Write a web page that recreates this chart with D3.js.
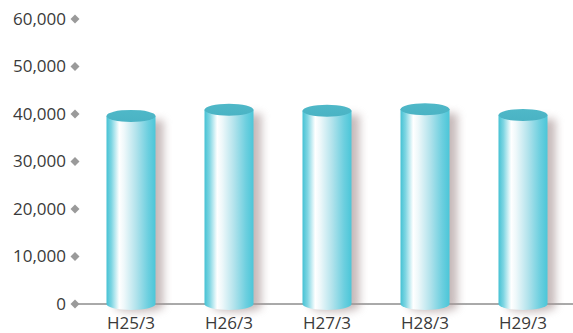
<!DOCTYPE html>
<html><head><meta charset="utf-8">
<script src="https://cdn.jsdelivr.net/npm/d3@7"></script>
<style>
html,body{margin:0;padding:0;background:#fff;}
svg{display:block;}
text{font-family:"Open Sans",sans-serif;}
</style></head>
<body>
<script>
const categories = ["H25/3","H26/3","H27/3","H28/3","H29/3"];
const values = [39600, 40900, 40700, 41000, 39800];
const yTicks = [0,10000,20000,30000,40000,50000,60000];

const W = 573, H = 333;
const svg = d3.select("body").append("svg").attr("width", W).attr("height", H);
const defs = svg.append("defs");

const x = d3.scaleBand().domain(categories).range([82, 572]).padding(0);
const y = d3.scaleLinear().domain([0, 60000]).range([304, 19]);

const g1 = defs.append("linearGradient").attr("id","body").attr("x1","0").attr("x2","1").attr("y1","0").attr("y2","0");
[[0,"#45c2d4"],[0.1,"#7dd5e2"],[0.26,"#ffffff"],[0.36,"#eef8fa"],[0.6,"#b3e3ec"],[0.85,"#6ccfdf"],[1,"#4bc6d8"]]
  .forEach(([o,c])=>g1.append("stop").attr("offset",o).attr("stop-color",c));
const g2 = defs.append("linearGradient").attr("id","top").attr("x1","0").attr("x2","0").attr("y1","0").attr("y2","1");
[[0,"#4fb8c8"],[1,"#4ab3c4"]].forEach(([o,c])=>g2.append("stop").attr("offset",o).attr("stop-color",c));
const f = defs.append("filter").attr("id","sh").attr("x","-50%").attr("y","-20%").attr("width","200%").attr("height","140%");
f.append("feGaussianBlur").attr("stdDeviation",4);

const bw = x.bandwidth()*0.5, rx = bw/2, ry = 6;

svg.append("line").attr("x1",75).attr("x2",W).attr("y1",y(0)).attr("y2",y(0))
  .attr("stroke","#555").attr("stroke-width",1);

const yt = svg.append("g");
yTicks.forEach(t=>{
  yt.append("text").attr("x",66).attr("y",y(t)).attr("dy","0.35em").attr("text-anchor","end")
    .attr("font-size",17).attr("fill","#3a3a3a").text(d3.format(",")(t));
  yt.append("path").attr("d","M0,-4.5L4.5,0L0,4.5L-4.5,0Z")
    .attr("transform",`translate(75,${y(t)})`).attr("fill","#9a9a9a");
});

function bodyPath(cx, top, bot){
  const l = cx-rx, r = cx+rx;
  return `M${l},${top} L${r},${top} L${r},${bot} A${rx},${ry} 0 0 1 ${l},${bot} Z`;
}

const bars = svg.append("g");
categories.forEach((c,i)=>{
  const cx = x(c)+x.bandwidth()/2, top = y(values[i]), bot = y(0);
  bars.append("path").attr("d", bodyPath(cx+8, top+4, bot+2))
    .attr("fill","#a89494").attr("opacity",0.65).attr("filter","url(#sh)");
});
categories.forEach((c,i)=>{
  const cx = x(c)+x.bandwidth()/2, top = y(values[i]), bot = y(0);
  bars.append("path").attr("d", bodyPath(cx, top, bot)).attr("fill","url(#body)");
  bars.append("ellipse").attr("cx",cx).attr("cy",top).attr("rx",rx).attr("ry",ry).attr("fill","url(#top)");
});

svg.append("g").selectAll("text").data(categories).join("text")
  .attr("x",d=>x(d)+x.bandwidth()/2).attr("y",329).attr("text-anchor","middle")
  .attr("font-size",17).attr("fill","#3a3a3a").text(d=>d);
</script>
</body></html>
